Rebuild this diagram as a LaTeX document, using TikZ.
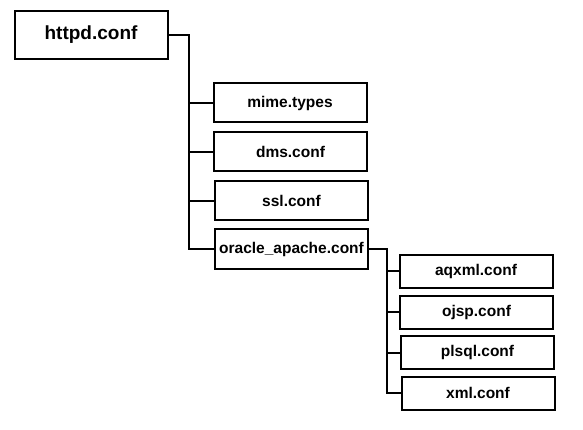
\documentclass[tikz,border=0pt]{standalone}
\usepackage{fontspec}
\setmainfont{Liberation Sans}
\usepackage{tikz}

\begin{document}
\begin{tikzpicture}[x=1pt, y=-1pt, line width=2pt,
    file/.style={draw, rectangle, inner sep=0pt, minimum width=153pt, minimum height=39pt,
                 font=\fontsize{15.5}{18}\selectfont\bfseries},
    subfile/.style={file, minimum height=33pt}]
    \useasboundingbox (0, 0) rectangle (583, 430);

    % draw top file
    \node[file, minimum height=48pt, font=\fontsize{19}{22}\selectfont\bfseries] (httpd) at (91, 35) {httpd.conf};

    % draw included files
    \node[file] (mime)   at (290, 103) {mime.types};
    \node[file] (dms)    at (290.5, 152) {dms.conf};
    \node[file] (ssl)    at (291.5, 201) {ssl.conf};
    \node[file] (oracle) at (291.5, 249) {oracle\_apache.conf};

    % draw files included by oracle_apache.conf
    \node[subfile] (aqxml) at (476, 271) {aqxml.conf};
    \node[subfile] (ojsp)  at (476.5, 312) {ojsp.conf};
    \node[subfile] (plsql) at (477.5, 352.5) {plsql.conf};
    \node[subfile] (xml)   at (478, 393) {xml.conf};

    % draw first tree
    \coordinate (trunk) at (189, 0);
    \draw (httpd.east) -| (trunk |- oracle.west) -- (oracle.west);
    \draw (mime.west) -- (mime.west -| trunk);
    \draw (dms.west)  -- (dms.west -| trunk);
    \draw (ssl.west)  -- (ssl.west -| trunk);

    % draw second tree
    \coordinate (subtrunk) at (387, 0);
    \draw (oracle.east) -| (subtrunk |- xml.west) -- (xml.west);
    \draw (aqxml.west) -- (aqxml.west -| subtrunk);
    \draw (ojsp.west)  -- (ojsp.west -| subtrunk);
    \draw (plsql.west) -- (plsql.west -| subtrunk);

\end{tikzpicture}
\end{document}
